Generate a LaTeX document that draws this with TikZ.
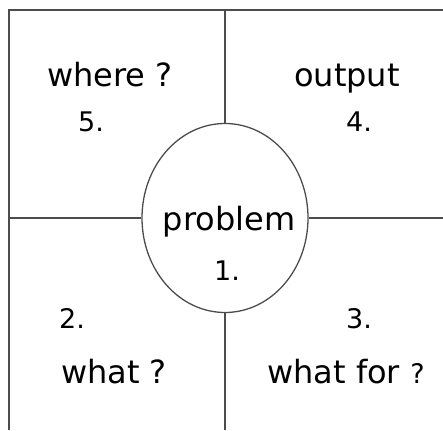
\documentclass[tikz,border=0pt]{standalone}
\usepackage{fontspec}
\setmainfont{DejaVu Sans}
\usetikzlibrary{shapes.geometric}

\tikzset{
  frame/.style={draw=black!70,line width=1.3pt},
  word/.style={anchor=base,inner sep=0pt,font=\fontsize{32}{38}\selectfont},
  num/.style={anchor=base,inner sep=0pt,font=\fontsize{27}{32}\selectfont},
}

\begin{document}
\begin{tikzpicture}[x=1pt,y=-1pt]
\useasboundingbox (0,0) rectangle (443,430);
% frame
\coordinate (tl) at (9,10);
\coordinate (tr) at (443,10);
\coordinate (bl) at (9,430);
\draw[frame] (tr) -- (tl) -- (bl);
% centre
\node[ellipse,frame,minimum width=166pt,minimum height=189pt,inner sep=0pt] (prob) at (225,218) {};
\coordinate (lm) at (tl |- prob.west);
\coordinate (rm) at (tr |- prob.east);
\coordinate (tm) at (tl -| prob.north);
\coordinate (bm) at (bl -| prob.south);
\draw[frame] (tm) -- (prob.north);
\draw[frame] (prob.south) -- (bm);
\draw[frame] (lm) -- (prob.west);
\draw[frame] (prob.east) -- (rm);
% labels
\node[word] (where) at (110,87) {where ?};
\node[num] (n5) at (91,132) {5.};
\node[word] (output) at (347,87) {output};
\node[num] (n4) at (359,132) {4.};
\node[word] (problem) at (229,230) {problem};
\node[num] (n1) at (227,280) {1.};
\node[num] (n2) at (72,328) {2.};
\node[word] (what) at (114,383) {what ?};
\node[num] (n3) at (359,328) {3.};
\node[word] (whatfor) at (346,383) {what for {\fontsize{27}{32}\selectfont ?}};
\end{tikzpicture}
\end{document}
